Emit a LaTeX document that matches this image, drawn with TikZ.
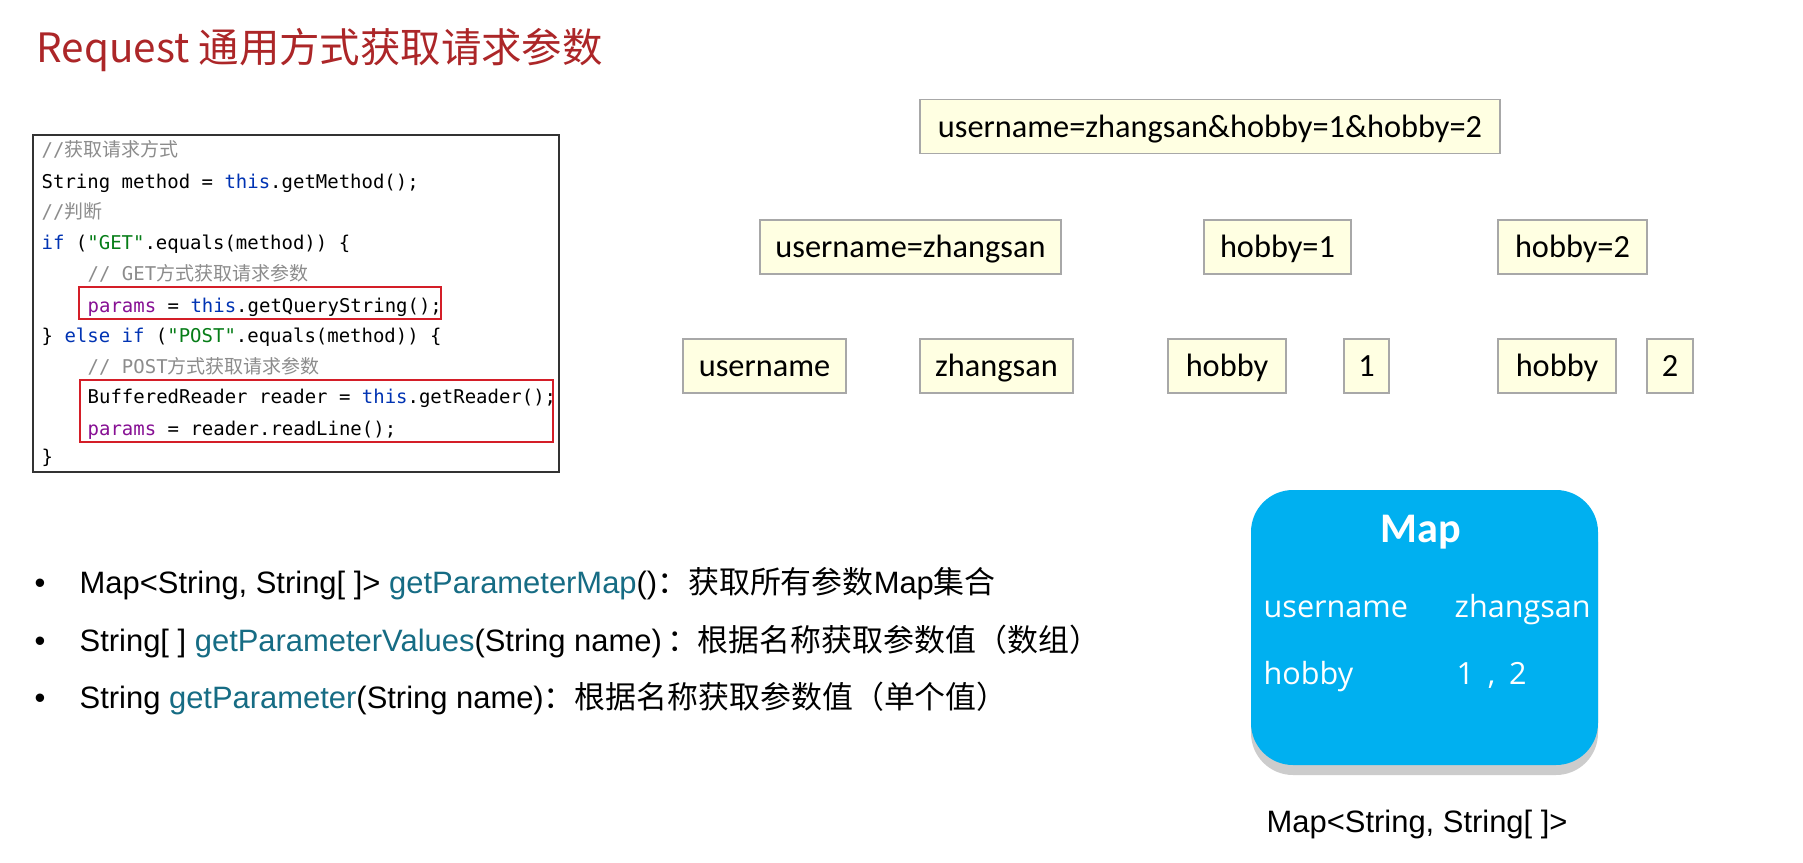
\documentclass[tikz,border=0pt]{standalone}
\usepackage{fontspec}
\setmainfont{Liberation Sans}
\newfontfamily\cjk{Noto Sans CJK SC}
\newfontfamily\codefont{DejaVu Sans Mono}
\newfontfamily\boxfont{Carlito}
\newfontfamily\mapfont{Open Sans}
\usetikzlibrary{shadows}

\definecolor{titlered}{RGB}{172,38,40}
\definecolor{cream}{RGB}{255,255,226}
\definecolor{creamedge}{RGB}{168,168,168}
\definecolor{mapblue}{RGB}{0,176,240}
\definecolor{codeblue}{RGB}{0,51,179}
\definecolor{codepurple}{RGB}{135,16,148}
\definecolor{codegreen}{RGB}{6,125,23}
\definecolor{codegray}{RGB}{140,140,140}
\definecolor{markred}{RGB}{212,30,40}
\definecolor{methodteal}{RGB}{22,108,132}

\newcommand\kw[1]{\textcolor{codeblue}{#1}}
\newcommand\codevar[1]{\textcolor{codepurple}{#1}}
\newcommand\strlit[1]{\textcolor{codegreen}{#1}}
\newcommand\note[1]{\textcolor{codegray}{#1}}
\newcommand\meth[1]{\textcolor{methodteal}{#1}}

\tikzset{
  codeline/.style={anchor=base west, inner sep=0pt, font=\codefont\fontsize{5.4}{6}\selectfont},
  parambox/.style={draw=creamedge, fill=cream, inner sep=0pt, minimum height=0.54cm,
    text height=0.8em, text depth=0.18em, font=\boxfont\fontsize{9.2}{11}\selectfont},
  bullettext/.style={anchor=base west, inner sep=0pt, font=\fontsize{8.8}{10}\selectfont},
  maptext/.style={anchor=base west, inner sep=0pt, text=white, font=\mapfont\fontsize{8.7}{10}\selectfont},
  redmark/.style={draw=markred, line width=0.7pt}
}

\begin{document}
\begin{tikzpicture}
  \useasboundingbox[fill=white] (0,0) rectangle (18.03,-8.63);

  \node[anchor=base west, inner sep=0pt, text=titlered, font=\cjk\fontsize{11.5}{14}\selectfont]
    (title) at (0.36,-0.62) {Request 通用方式获取请求参数};

  \draw[black!80, line width=0.45pt] (0.33,-1.35) rectangle (5.59,-4.72);
  \node[codeline] (code1) at (0.41,-1.56) {\note{//{\cjk 获取请求方式}}};
  \node[codeline] (code2) at (0.41,-1.88) {String method = \kw{this}.getMethod();};
  \node[codeline] (code3) at (0.41,-2.18) {\note{//{\cjk 判断}}};
  \node[codeline] (code4) at (0.41,-2.49) {\kw{if} (\strlit{"GET"}.equals(method)) \{};
  \node[codeline] (code5) at (0.87,-2.80) {\note{// GET{\cjk 方式获取请求参数}}};
  \node[codeline] (code6) at (0.87,-3.12) {\codevar{params} = \kw{this}.getQueryString();};
  \node[codeline] (code7) at (0.41,-3.42) {\} \kw{else if} (\strlit{"POST"}.equals(method)) \{};
  \node[codeline] (code8) at (0.87,-3.73) {\note{// POST{\cjk 方式获取请求参数}}};
  \node[codeline] (code9) at (0.87,-4.03) {BufferedReader reader = \kw{this}.getReader();};
  \node[codeline] (code10) at (0.87,-4.35) {\codevar{params} = reader.readLine();};
  \node[codeline] (code11) at (0.41,-4.63) {\}};
  \draw[redmark] (0.79,-2.87) rectangle (4.41,-3.19);
  \draw[redmark] (0.80,-3.80) rectangle (5.53,-4.42);

  \node[parambox, minimum width=5.80cm] (query) at (12.10,-1.265) {username=zhangsan\&hobby=1\&hobby=2};

  \node[parambox, minimum width=3.01cm] (pairuser) at (9.105,-2.47) {username=zhangsan};
  \node[parambox, minimum width=1.47cm] (pairhobbya) at (12.775,-2.47) {hobby=1};
  \node[parambox, minimum width=1.49cm] (pairhobbyb) at (15.725,-2.47) {hobby=2};

  \node[parambox, minimum width=1.63cm] (keyuser) at (7.645,-3.66) {username};
  \node[parambox, minimum width=1.53cm] (valuser) at (9.965,-3.66) {zhangsan};
  \node[parambox, minimum width=1.18cm] (keyhobbya) at (12.27,-3.66) {hobby};
  \node[parambox, minimum width=0.45cm] (valhobbya) at (13.665,-3.66) {1};
  \node[parambox, minimum width=1.18cm] (keyhobbyb) at (15.57,-3.66) {hobby};
  \node[parambox, minimum width=0.46cm] (valhobbyb) at (16.70,-3.66) {2};

  \node[fill=mapblue, rounded corners=0.42cm, minimum width=3.47cm, minimum height=2.75cm,
    drop shadow={shadow xshift=0cm, shadow yshift=-0.1cm, fill=black!20, opacity=1}]
    (map) at (14.245,-6.275) {};
  \node[anchor=base, inner sep=0pt, text=white, font=\boxfont\bfseries\fontsize{12}{14}\selectfont]
    (maptitle) at (14.21,-5.42) {Map};
  \node[maptext] (mapkeyuser) at (12.63,-6.17) {username};
  \node[maptext] (mapvaluser) at (14.54,-6.17) {zhangsan};
  \node[maptext] (mapkeyhobby) at (12.63,-6.84) {hobby};
  \node[maptext] (mapvalhobby) at (14.56,-6.84) {1\hspace{0.45em},\hspace{0.45em}2};
  \node[bullettext] (mapcaption) at (12.66,-8.32) {Map<String, String[ ]>};

  \node[bullettext] (dot1) at (0.34,-5.93) {•};
  \node[bullettext] (dot2) at (0.34,-6.51) {•};
  \node[bullettext] (dot3) at (0.34,-7.08) {•};
  \node[bullettext] (api1) at (0.79,-5.93)
    {Map<String, String[ ]> \meth{getParameterMap}(){\cjk ：获取所有参数}Map{\cjk 集合}};
  \node[bullettext] (api2) at (0.79,-6.51)
    {String[ ] \meth{getParameterValues}(String name)\,{\cjk ：根据名称获取参数值（数组）}};
  \node[bullettext] (api3) at (0.79,-7.08)
    {String \meth{getParameter}(String name){\cjk ：根据名称获取参数值（单个值）}};
\end{tikzpicture}
\end{document}
